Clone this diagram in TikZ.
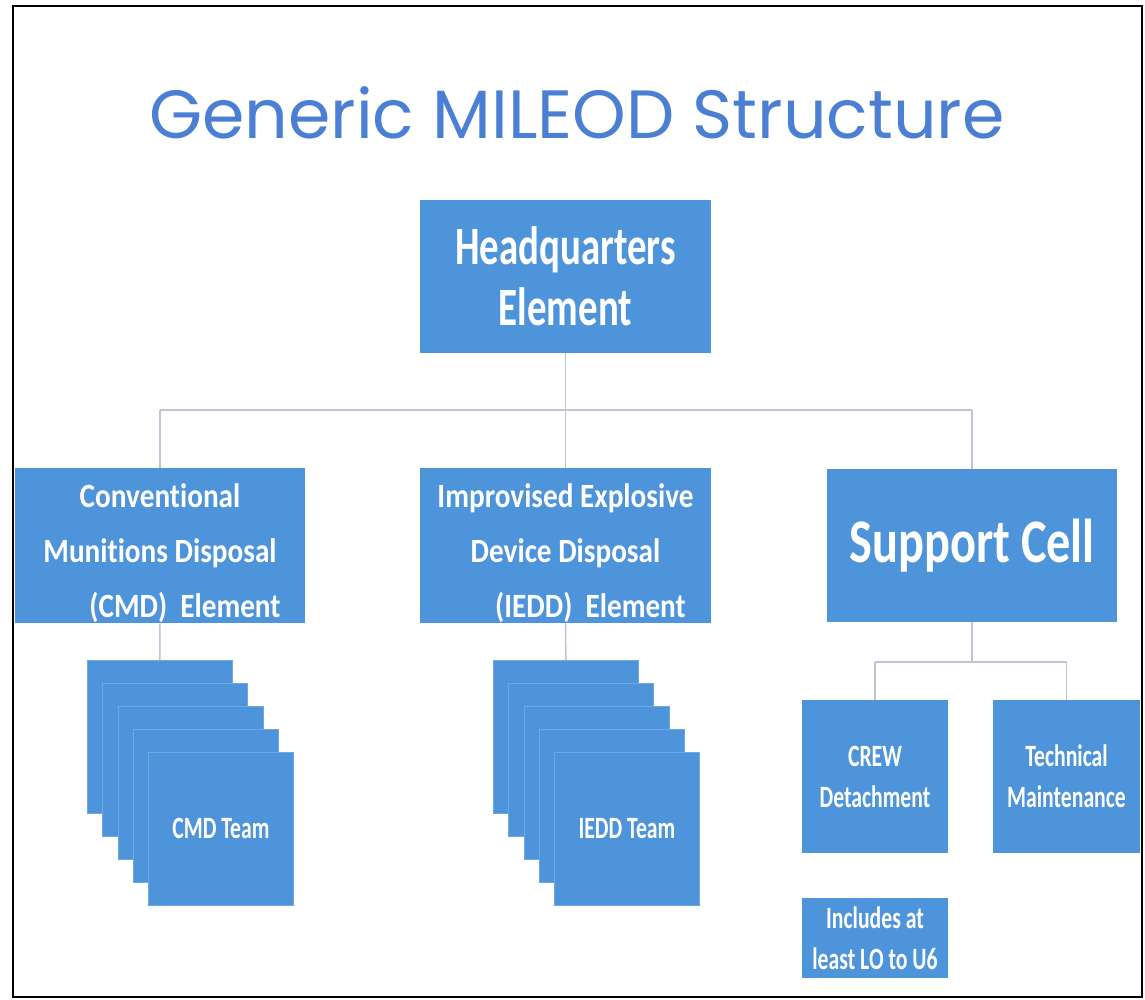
\documentclass[tikz,border=0pt]{standalone}
\usepackage{fontspec}
\setmainfont{Carlito}
\newfontfamily\titlefont{Poppins}
\newfontfamily\boxfontA[FakeStretch=0.72,Ligatures=NoCommon]{Carlito}
\newfontfamily\boxfontB[FakeStretch=0.86,Ligatures=NoCommon]{Carlito}
\newfontfamily\boxfontC[FakeStretch=0.78,Ligatures=NoCommon]{Carlito}
\newfontfamily\boxfontD[FakeStretch=0.70,Ligatures=NoCommon]{Carlito}
\definecolor{boxblue}{RGB}{78,148,218}
\definecolor{edgeblue}{RGB}{110,168,228}
\definecolor{titleblue}{RGB}{74,127,212}
\definecolor{linkgray}{RGB}{190,196,212}
\tikzset{
  orgbox/.style={fill=boxblue, text=white, inner sep=0pt, align=center, anchor=center},
  stackbox/.style={fill=boxblue, draw=edgeblue, line width=0.8pt, inner sep=0pt, anchor=north west,
    minimum width=145pt, minimum height=153pt, text=white},
  link/.style={draw=linkgray, line width=1.5pt},
}
\begin{document}
\begin{tikzpicture}[x=1pt,y=-1pt]
\useasboundingbox (0,0) rectangle (1145,999);
\fill[white] (0,0) rectangle (1145,999);
\draw[black, line width=2.5pt] (13,6) rectangle (1142,997);

% title
\node[anchor=base, text=titleblue, inner sep=0pt] (title) at (577,138)
  {\resizebox{855pt}{!}{\titlefont Generic MILEOD Structure}};

% main boxes
\node[orgbox, minimum width=291pt, minimum height=153pt,
  font=\boxfontA\bfseries\fontsize{54}{61}\selectfont] (hq) at (565.5,276.5)
  {Headquarters\\Element};
\node[orgbox, minimum width=290pt, minimum height=153pt,
  font=\boxfontB\bfseries\fontsize{34}{55}\selectfont] (cmd) at (160,545.5)
  {\rule{0pt}{40pt}Conventional\\Munitions Disposal\\\hspace*{50pt}(CMD)\ \ Element};
\node[orgbox, minimum width=291pt, minimum height=153pt,
  font=\boxfontB\bfseries\fontsize{34}{55}\selectfont] (iedd) at (565.5,545.5)
  {\rule{0pt}{40pt}Improvised Explosive\\Device Disposal\\\hspace*{50pt}(IEDD)\ \ Element};
\node[orgbox, minimum width=290pt, minimum height=153pt,
  font=\boxfontC\bfseries\fontsize{62}{70}\selectfont] (sup) at (972,545.5)
  {Support Cell};
\node[orgbox, minimum width=146pt, minimum height=153pt,
  font=\boxfontD\bfseries\fontsize{31}{41}\selectfont] (crew) at (875,776.5)
  {CREW\\Detachment};
\node[orgbox, minimum width=147pt, minimum height=153pt,
  font=\boxfontD\bfseries\fontsize{31}{41}\selectfont] (tech) at (1066.5,776.5)
  {Technical\\Maintenance};
\node[orgbox, minimum width=146pt, minimum height=80pt,
  font=\boxfontD\bfseries\fontsize{31}{41}\selectfont] (incl) at (875,938)
  {Includes at\\least LO to U6};

% connectors
\coordinate (hqj) at (565.5,410);
\coordinate (lj) at (160,410);
\coordinate (rj) at (972,410);
\draw[link] (hq.south) -- (hqj);
\draw[link] (lj) -- (rj);
\draw[link] (lj) -- (cmd.north);
\draw[link] (hqj) -- (iedd.north);
\draw[link] (rj) -- (sup.north);
\coordinate (sj) at (972,662);
\coordinate (sl) at (875,662);
\coordinate (sr) at (1066.5,662);
\draw[link] (sup.south) -- (sj);
\draw[link] (sl) -- (sr);
\draw[link] (sl) -- (crew.north);
\draw[link] (sr) -- (tech.north);

% CMD team stack
\node[stackbox] (c1) at (87,660) {};
\draw[link] (cmd.south) -- (c1.north);
\node[stackbox] (c2) at (102.25,683) {};
\node[stackbox] (c3) at (117.5,706) {};
\node[stackbox] (c4) at (132.75,729) {};
\node[stackbox, font=\boxfontD\bfseries\fontsize{31}{41}\selectfont] (c5) at (148,752) {CMD Team};

% IEDD team stack
\node[stackbox] (i1) at (493,660) {};
\draw[link] (iedd.south) -- (i1.north);
\node[stackbox] (i2) at (508.25,683) {};
\node[stackbox] (i3) at (523.5,706) {};
\node[stackbox] (i4) at (538.75,729) {};
\node[stackbox, font=\boxfontD\bfseries\fontsize{31}{41}\selectfont] (i5) at (554,752) {IEDD Team};
\end{tikzpicture}
\end{document}
